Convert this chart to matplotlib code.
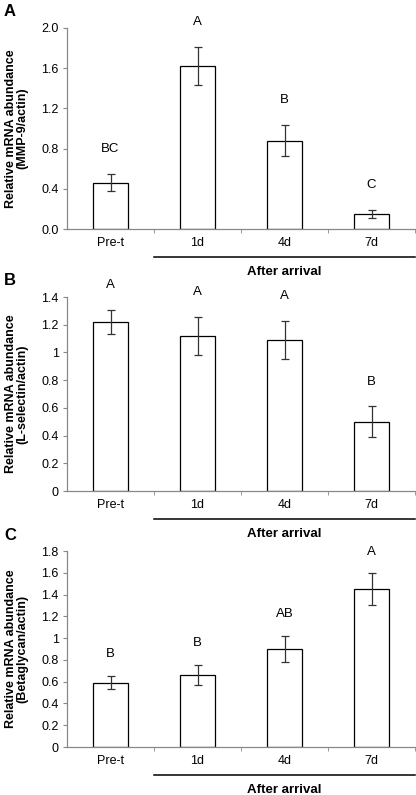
import numpy as np
import matplotlib.pyplot as plt

plt.rcParams['font.family'] = ['Liberation Sans', 'DejaVu Sans']

groups = ["Pre-t", "1d", "4d", "7d"]

mmp9 = [0.46, 1.62, 0.88, 0.15]
mmp9_err = [0.085, 0.19, 0.15, 0.04]
mmp9_sig = ["BC", "A", "B", "C"]

lsel = [1.22, 1.12, 1.09, 0.50]
lsel_err = [0.085, 0.135, 0.135, 0.11]
lsel_sig = ["A", "A", "A", "B"]

beta = [0.59, 0.66, 0.90, 1.45]
beta_err = [0.06, 0.095, 0.12, 0.145]
beta_sig = ["B", "B", "AB", "A"]

panels = [
    ("A", mmp9, mmp9_err, mmp9_sig, "(MMP-9/actin)", 2.0, np.arange(0, 2.01, 0.4), "%.1f", 0.25),
    ("B", lsel, lsel_err, lsel_sig, "(L-selectin/actin)", 1.4, np.arange(0, 1.41, 0.2), "%g", 0.18),
    ("C", beta, beta_err, beta_sig, "(Betaglycan/actin)", 1.8, np.arange(0, 1.81, 0.2), "%g", 0.2),
]

# axes boxes in pixels: (top, bottom)
W, H = 416, 795
boxes = [(28, 229), (297, 491), (551, 747)]
left, right = 67, 415

fig = plt.figure(figsize=(W / 100, H / 100), dpi=100)

x = np.arange(len(groups))
for (letter, vals, errs, sig, ylab, ymax, ticks, fmt, off), (top, bot) in zip(panels, boxes):
    ax = fig.add_axes([left / W, 1 - bot / H, (right - left) / W, (bot - top) / H])
    ax.bar(x, vals, width=0.4, color="white", edgecolor="black", linewidth=0.9, zorder=2)
    ax.errorbar(x, vals, yerr=errs, fmt="none", ecolor="#333333", elinewidth=0.9,
                capsize=3, capthick=0.9, zorder=3)
    for xi, v, e, s in zip(x, vals, errs, sig):
        ax.text(xi, v + e + off, s, ha="center", va="center", fontsize=9.5)

    ax.set_xlim(-0.5, 3.5)
    ax.set_ylim(0, ymax)
    ax.set_yticks(ticks)
    ax.set_yticklabels([fmt % t for t in ticks], fontsize=9)
    ax.set_xticks(x)
    ax.set_xticklabels(groups, fontsize=9)
    ax.set_xticks([0.5, 1.5, 2.5, 3.5], minor=True)
    ax.tick_params(axis="x", which="major", length=0, pad=6)
    ax.tick_params(axis="x", which="minor", length=3, color="#888888", direction="out")
    ax.tick_params(axis="y", length=3, color="#888888", pad=3)
    for sp in ["top", "right"]:
        ax.spines[sp].set_visible(False)
    for sp in ["left", "bottom"]:
        ax.spines[sp].set_color("#888888")
        ax.spines[sp].set_linewidth(0.9)

    ax.set_ylabel("Relative mRNA abundance\n" + ylab, fontsize=9, fontweight="bold",
                  labelpad=9, linespacing=1.0)

    hpx = bot - top
    tr = ax.get_xaxis_transform()
    ax.plot([0.5, 3.5], [-28 / hpx] * 2, color="black", lw=1.1, transform=tr, clip_on=False)
    ax.text(2.0, -43 / hpx, "After arrival", transform=tr, ha="center", va="center",
            fontsize=9.5, fontweight="bold")

    fig.text(4 / W, 1 - (top - 16) / H, letter, fontsize=12, fontweight="bold",
             ha="left", va="center")

fig.savefig("out.png", dpi=100)
